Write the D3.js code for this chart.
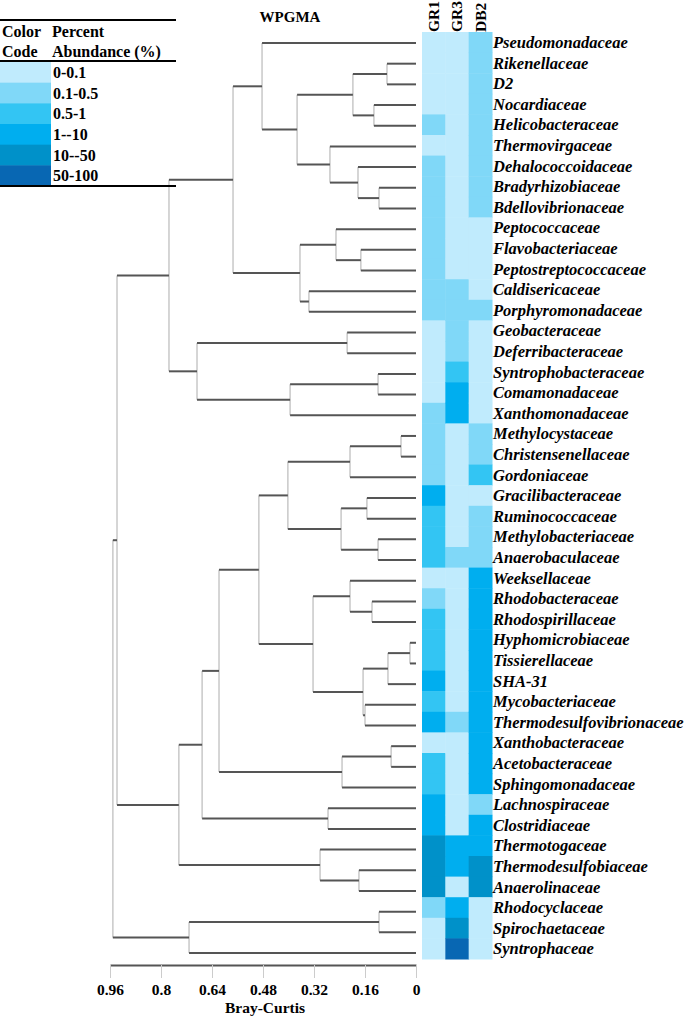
<!DOCTYPE html>
<html>
<head>
<meta charset="utf-8">
<script src="https://cdn.jsdelivr.net/npm/d3@7"></script>
<style>
body { margin: 0; background: #fff; }
text { font-family: "Liberation Serif", "Times New Roman", serif; font-weight: bold; fill: #000; }
</style>
</head>
<body>
<script>
var width = 685;
var height = 1024;

// families, top to bottom (dendrogram leaf order)
var families = ['Pseudomonadaceae', 'Rikenellaceae', 'D2', 'Nocardiaceae', 'Helicobacteraceae',
  'Thermovirgaceae', 'Dehalococcoidaceae', 'Bradyrhizobiaceae', 'Bdellovibrionaceae', 'Peptococcaceae',
  'Flavobacteriaceae', 'Peptostreptococcaceae', 'Caldisericaceae', 'Porphyromonadaceae', 'Geobacteraceae',
  'Deferribacteraceae', 'Syntrophobacteraceae', 'Comamonadaceae', 'Xanthomonadaceae', 'Methylocystaceae',
  'Christensenellaceae', 'Gordoniaceae', 'Gracilibacteraceae', 'Ruminococcaceae', 'Methylobacteriaceae',
  'Anaerobaculaceae', 'Weeksellaceae', 'Rhodobacteraceae', 'Rhodospirillaceae', 'Hyphomicrobiaceae',
  'Tissierellaceae', 'SHA-31', 'Mycobacteriaceae', 'Thermodesulfovibrionaceae', 'Xanthobacteraceae',
  'Acetobacteraceae', 'Sphingomonadaceae', 'Lachnospiraceae', 'Clostridiaceae', 'Thermotogaceae',
  'Thermodesulfobiaceae', 'Anaerolinaceae', 'Rhodocyclaceae', 'Spirochaetaceae', 'Syntrophaceae'];

var samples = ['GR1', 'GR3', 'DB2'];

// abundance class of each family (index into classLabels)
var gr1 = [0, 0, 0, 0, 1, 0, 1, 1, 1, 1, 1, 1, 1, 1, 0, 0, 0, 0, 1, 1, 1, 1, 3,
  2, 2, 2, 0, 1, 2, 2, 2, 3, 2, 3, 0, 2, 2, 3, 3, 4, 4, 4, 1, 0, 0];
var gr3 = [0, 0, 0, 0, 0, 0, 0, 0, 0, 0, 0, 0, 1, 1, 1, 1, 2, 3, 3, 0, 0, 0, 0,
  0, 0, 1, 0, 0, 0, 0, 0, 0, 0, 1, 0, 0, 0, 0, 0, 3, 3, 0, 3, 4, 5];
var db2 = [1, 1, 1, 1, 1, 1, 1, 1, 1, 0, 0, 0, 0, 1, 0, 0, 0, 0, 0, 1, 1, 2, 0,
  1, 1, 1, 3, 3, 3, 3, 3, 3, 3, 3, 3, 3, 3, 1, 3, 3, 4, 4, 0, 0, 0];

var classLabels = ['0-0.1', '0.1-0.5', '0.5-1', '1--10', '10--50', '50-100'];
var classColors = ['#c0ebfd', '#80d8f8', '#33c5f3', '#00aeef', '#0091c9', '#0867b3'];

var distTicks = [0.96, 0.8, 0.64, 0.48, 0.32, 0.16, 0];

// WPGMA tree on Bray-Curtis distance: [height, child, child]
var tree = [0.951,
  [0.938,
    [0.775,
      [0.574,
        [0.483, 'Pseudomonadaceae',
          [0.373,
            [0.198, [0.091, 'Rikenellaceae', 'D2'], [0.132, 'Nocardiaceae', 'Helicobacteraceae']],
            [0.270, 'Thermovirgaceae', [0.182, 'Dehalococcoidaceae', [0.116, 'Bradyrhizobiaceae', 'Bdellovibrionaceae']]]]],
        [0.364,
          [0.251, 'Peptococcaceae', [0.173, 'Flavobacteriaceae', 'Peptostreptococcaceae']],
          [0.336, 'Caldisericaceae', 'Porphyromonadaceae']]],
      [0.687,
        [0.216, 'Geobacteraceae', 'Deferribacteraceae'],
        [0.395, [0.119, 'Syntrophobacteraceae', 'Comamonadaceae'], 'Xanthomonadaceae']]],
    [0.744,
      [0.671,
        [0.618,
          [0.493,
            [0.402,
              [0.207, [0.047, 'Methylocystaceae', 'Christensenellaceae'], 'Gordoniaceae'],
              [0.235, [0.154, 'Gracilibacteraceae', 'Ruminococcaceae'], [0.119, 'Methylobacteriaceae', 'Anaerobaculaceae']]],
            [0.323,
              [0.207, 'Weeksellaceae', [0.138, 'Rhodobacteraceae', 'Rhodospirillaceae']],
              [0.166,
                [0.088, [0.019, 'Hyphomicrobiaceae', 'Tissierellaceae'], 'SHA-31'],
                [0.160, 'Mycobacteriaceae', 'Thermodesulfovibrionaceae']]]],
          [0.232, [0.078, 'Xanthobacteraceae', 'Acetobacteraceae'], 'Sphingomonadaceae']],
        [0.276, 'Lachnospiraceae', 'Clostridiaceae']],
      [0.301, 'Thermotogaceae', [0.179, 'Thermodesulfobiaceae', 'Anaerolinaceae']]]],
  [0.712, [0.116, 'Rhodocyclaceae', 'Spirochaetaceae'], 'Syntrophaceae']];

var svg = d3.select('body').append('svg')
  .attr('width', width)
  .attr('height', height);

// scales
var x = d3.scaleLinear().domain([0.96, 0]).range([110, 416]);
var yLeaf = d3.scalePoint().domain(families).range([43, 953]);
var yRow = d3.scaleBand().domain(families).range([32, 959]);
var xCol = d3.scaleBand().domain(samples).range([422, 492]);
var color = d3.scaleOrdinal().domain(d3.range(classLabels.length)).range(classColors);

// dendrogram
var root = d3.hierarchy(tree, function(d){ return Array.isArray(d) ? d.slice(1) : null; });
root.eachAfter(function(n){
  if(n.children){
    n.h = n.data[0];
    n.yy = d3.mean(n.children, function(c){ return c.yy; });
  } else {
    n.h = 0;
    n.yy = yLeaf(n.data);
  }
});

var dendro = svg.append('g');
dendro.selectAll('line.v')
  .data(root.descendants().filter(function(n){ return n.children; }))
  .enter().append('line')
  .attr('class', 'v')
  .attr('x1', function(n){ return x(n.h); })
  .attr('x2', function(n){ return x(n.h); })
  .attr('y1', function(n){ return d3.min(n.children, function(c){ return c.yy; }); })
  .attr('y2', function(n){ return d3.max(n.children, function(c){ return c.yy; }); })
  .style('stroke', '#c8c8c8')
  .style('stroke-width', 1.5);

dendro.selectAll('line.h')
  .data(root.descendants().filter(function(n){ return n.parent; }))
  .enter().append('line')
  .attr('class', 'h')
  .attr('x1', function(n){ return x(n.parent.h); })
  .attr('x2', function(n){ return x(n.h); })
  .attr('y1', function(n){ return n.yy; })
  .attr('y2', function(n){ return n.yy; })
  .style('stroke', '#555')
  .style('stroke-width', 2);

// heatmap
var levels = [gr1, gr3, db2];
var cells = [];
samples.forEach(function(s, j){
  families.forEach(function(f, i){
    cells.push({sample: s, family: f, level: levels[j][i]});
  });
});
svg.append('g').selectAll('rect')
  .data(cells)
  .enter().append('rect')
  .attr('x', function(d){ return xCol(d.sample); })
  .attr('y', function(d){ return yRow(d.family); })
  .attr('width', xCol.bandwidth() + 0.5)
  .attr('height', yRow.bandwidth() + 0.5)
  .style('fill', function(d){ return color(d.level); });

// row labels
svg.append('g').selectAll('text')
  .data(families)
  .enter().append('text')
  .attr('x', 493)
  .attr('y', function(d){ return yRow(d) + yRow.bandwidth() / 2; })
  .attr('dy', '0.35em')
  .style('font-style', 'italic')
  .style('font-size', '16.5px')
  .text(function(d){ return d; });

// column labels
svg.append('g').selectAll('text')
  .data(samples)
  .enter().append('text')
  .attr('transform', function(d){ return 'translate(' + (xCol(d) + xCol.bandwidth() / 2) + ',32) rotate(-90)'; })
  .attr('dy', '0.35em')
  .style('font-size', '15.5px')
  .text(function(d){ return d; });

// title
svg.append('text')
  .attr('x', 290)
  .attr('y', 22)
  .attr('text-anchor', 'middle')
  .style('font-size', '15px')
  .text('WPGMA');

// distance axis
var axis = d3.axisBottom(x)
  .tickValues(distTicks)
  .tickFormat(function(d){ return d; })
  .tickSize(13)
  .tickSizeOuter(0)
  .tickPadding(6);
var gAxis = svg.append('g')
  .attr('transform', 'translate(0,965)')
  .call(axis);
gAxis.select('.domain').style('stroke', '#555').style('stroke-width', 2);
gAxis.selectAll('.tick line').style('stroke', '#ccc');
gAxis.selectAll('.tick text')
  .style('font-family', '"Liberation Serif", serif')
  .style('font-weight', 'bold')
  .style('font-size', '15.5px')
  .style('fill', '#000');

svg.append('text')
  .attr('x', 265)
  .attr('y', 1013)
  .attr('text-anchor', 'middle')
  .style('font-size', '15.5px')
  .text('Bray-Curtis');

// legend
var legend = svg.append('g');
var yLeg = d3.scaleBand().domain(classLabels).range([62, 186]);
legend.selectAll('rect')
  .data(classLabels)
  .enter().append('rect')
  .attr('x', 0)
  .attr('y', function(d){ return yLeg(d); })
  .attr('width', 51)
  .attr('height', yLeg.bandwidth() + 0.5)
  .style('fill', function(d, i){ return color(i); });
legend.selectAll('text.lab')
  .data(classLabels)
  .enter().append('text')
  .attr('class', 'lab')
  .attr('x', 53)
  .attr('y', function(d){ return yLeg(d) + yLeg.bandwidth() / 2; })
  .attr('dy', '0.35em')
  .style('font-size', '16px')
  .text(function(d){ return d; });

var heads = [['Color', 2, 37], ['Code', 2, 57], ['Percent', 52, 37], ['Abundance (%)', 52, 57]];
legend.selectAll('text.head')
  .data(heads)
  .enter().append('text')
  .attr('class', 'head')
  .attr('x', function(d){ return d[1]; })
  .attr('y', function(d){ return d[2]; })
  .style('font-size', '16px')
  .text(function(d){ return d[0]; });

legend.selectAll('line')
  .data([20, 61, 186])
  .enter().append('line')
  .attr('x1', 0)
  .attr('x2', 176)
  .attr('y1', function(d){ return d; })
  .attr('y2', function(d){ return d; })
  .style('stroke', '#000')
  .style('stroke-width', 2);
</script>
</body>
</html>
